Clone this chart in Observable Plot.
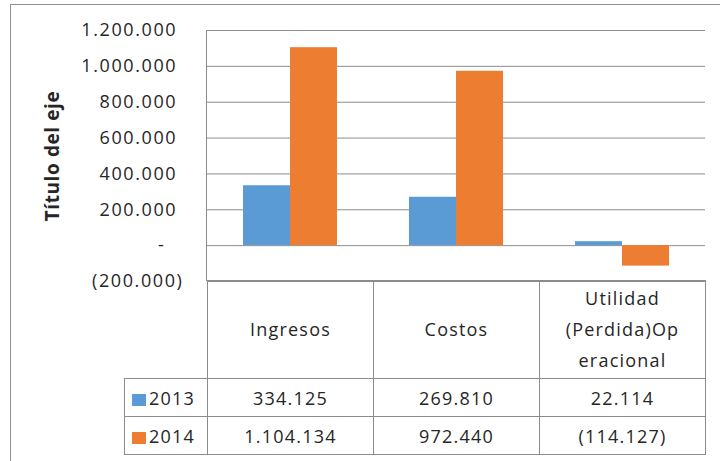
<!DOCTYPE html>
<html>
<head>
<meta charset="utf-8">
<script src="https://cdn.jsdelivr.net/npm/d3@7"></script>
<script src="https://cdn.jsdelivr.net/npm/@observablehq/plot@0.6"></script>
<style>
  body { margin: 0; background: #fff; font-family: "Open Sans", sans-serif; }
  #wrap { position: relative; width: 720px; height: 461px; overflow: hidden; background: #fff; }
  #frame { position: absolute; left: 10px; top: 4px; width: 800px; height: 600px;
           border-left: 1px solid #8f8f8f; border-top: 1px solid #8f8f8f; pointer-events: none; }
  #vline { position: absolute; left: 206px; top: 30px; width: 0; height: 251px; border-left: 1px solid #8c8c8c; }
  #chart { position: absolute; left: 0; top: 0; }
  #tbl { position: absolute; left: 124px; top: 280px; border-collapse: collapse; table-layout: fixed;
         font-family: "Open Sans", sans-serif; font-size: 18px; letter-spacing: 1.2px; color: #262626; }
  #tbl td { border: 1px solid #8c8c8c; text-align: center; padding: 0; }
  #tbl td.blank { border: none; }
  #tbl td.leg { text-align: left; padding-left: 7px; white-space: nowrap; }
  #tbl .sq { display: inline-block; width: 14px; height: 12px; margin-right: 3px; vertical-align: -1px; }
  #tbl tr.head td { height: 97px; line-height: 31px; }
  #tbl tr.row td { height: 37px; }
</style>
</head>
<body>
<div id="wrap">
  <div id="chart"></div>
  <div id="vline"></div>
  <div id="frame"></div>
</div>
<script>
// ---- data ----
const categories = ["Ingresos", "Costos", "Utilidad (Perdida)Operacional"];
const headerLines = [["Ingresos"], ["Costos"], ["Utilidad", "(Perdida)Op", "eracional"]];
const years = ["2013", "2014"];
const values2013 = [334125, 269810, 22114];
const values2014 = [1104134, 972440, -114127];
const yTicks = [-200000, 0, 200000, 400000, 600000, 800000, 1000000, 1200000];
const colors = ["#5B9BD5", "#ED7D31"];
const yTitle = "Título del eje";

const seriesValues = [values2013, values2014];
const data = categories.flatMap((c, i) => years.map((y, j) => ({cat: c, year: y, value: seriesValues[j][i]})));

const loc = d3.formatLocale({decimal: ",", thousands: ".", grouping: [3], currency: ["", ""]});
const f = loc.format(",d");
const fmtTable = v => v < 0 ? `(${f(-v)})` : f(v);
const fmtAxis = v => v === 0 ? "-\u2007\u2008" : v < 0 ? `(${f(-v)})` : f(v) + "\u2008";

const plot = Plot.plot({
  width: 720,
  height: 461,
  marginLeft: 207,
  marginRight: 15,
  marginTop: 30,
  marginBottom: 180,
  style: {fontFamily: "Open Sans", fontSize: "18px", color: "#262626", background: "transparent", letterSpacing: "1.6px"},
  facet: {data, x: "cat"},
  fx: {domain: categories, paddingInner: 0, paddingOuter: 0, axis: null, label: null},
  x: {domain: years, paddingInner: 0, paddingOuter: 0.75, axis: null, label: null},
  y: {domain: [-200000, 1200000], ticks: yTicks, tickFormat: fmtAxis, tickSize: 0, tickPadding: 24,
      label: yTitle, labelAnchor: "center", labelOffset: 162},
  color: {domain: years, range: colors},
  marks: [
    Plot.ruleY(yTicks, {stroke: "#8c8c8c", strokeWidth: 1}),
    Plot.barY(data, {x: "year", y: "value", fill: "year"})
  ]
});
document.getElementById("chart").appendChild(plot);
d3.select(plot).selectAll("text").filter(function () { return this.textContent.startsWith(yTitle); })
  .text(yTitle)
  .style("font-weight", "bold").style("font-size", "19px").style("letter-spacing", "0.6px");

// ---- table ----
const tbl = document.createElement("table");
tbl.id = "tbl";
const cg = document.createElement("colgroup");
[83, 166, 166, 166].forEach(w => { const c = document.createElement("col"); c.style.width = w + "px"; cg.appendChild(c); });
tbl.appendChild(cg);
const head = document.createElement("tr");
head.className = "head";
const blank = document.createElement("td"); blank.className = "blank"; head.appendChild(blank);
headerLines.forEach(lines => {
  const td = document.createElement("td");
  td.innerHTML = lines.join("<br>");
  head.appendChild(td);
});
tbl.appendChild(head);
years.forEach((y, j) => {
  const tr = document.createElement("tr");
  tr.className = "row";
  const lg = document.createElement("td");
  lg.className = "leg";
  const sq = document.createElement("span"); sq.className = "sq"; sq.style.background = colors[j];
  lg.appendChild(sq);
  lg.appendChild(document.createTextNode(y));
  tr.appendChild(lg);
  seriesValues[j].forEach(v => {
    const td = document.createElement("td");
    td.textContent = fmtTable(v);
    tr.appendChild(td);
  });
  tbl.appendChild(tr);
});
document.getElementById("wrap").appendChild(tbl);
</script>
</body>
</html>
